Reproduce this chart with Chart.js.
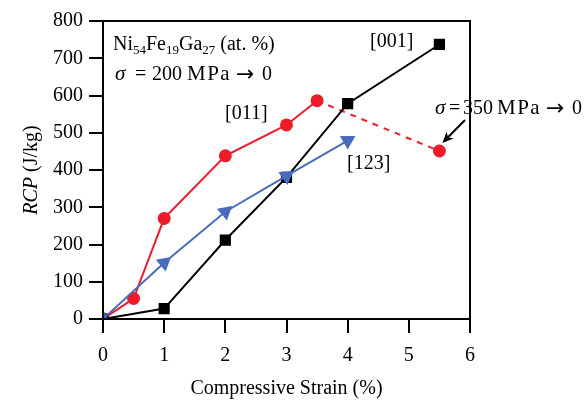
<!DOCTYPE html>
<html><head><meta charset="utf-8">
<script src="https://cdn.jsdelivr.net/npm/chart.js@4/dist/chart.umd.min.js"></script>
<style>html,body{margin:0;padding:0;background:#fff}#wrap{width:586px;height:401px}</style>
</head><body><div id="wrap"><canvas id="c" width="586" height="401"></canvas></div>
<script>
const xTicks = [0,1,2,3,4,5,6];
const yTicks = [0,100,200,300,400,500,600,700,800];
const s001 = [[0,0],[1,28],[2,212],[3,380],[4,578],[5.5,737]];
const s011 = [[0,0],[0.5,55],[1,270],[2,438],[3,521],[3.5,586],[5.5,451]];
const s123 = [[0,0],[1,151],[2,288],[3,384],[4,479]];
const labels = ['[001]','[011]','[123]'];

const F = '"Liberation Serif", "Times New Roman", serif';
const FA = '"DejaVu Sans", sans-serif';
const toPts = a => a.map(p => ({x:p[0], y:p[1]}));

const annot = {
  id:'annot',
  afterDraw(chart){
    const {ctx, chartArea:a, scales:{x,y}} = chart;
    ctx.save();
    ctx.strokeStyle='#000'; ctx.lineWidth=2;
    ctx.strokeRect(a.left, a.top, a.right-a.left, a.bottom-a.top);
    ctx.fillStyle='#000'; ctx.textBaseline='alphabetic'; ctx.textAlign='left';
    let cx, by;
    const seg = (t, font, dy) => {
      ctx.font = font;
      ctx.fillText(t, cx, by + (dy||0));
      cx += ctx.measureText(t).width;
    };
    const N='20px '+F, S='13px '+F;
    // Ni54Fe19Ga27 (at. %)
    cx = 113; by = 50;
    seg('Ni',N); seg('54',S,4); seg('Fe',N); seg('19',S,4); seg('Ga',N); seg('27',S,4); seg(' (at. %)',N);
    // sigma lines, pieces placed to match spacing
    const sigmaLine = (x0, base, num, o) => {
      ctx.font='italic 21px '+F; ctx.fillText('σ', x0, base);
      ctx.font=N; ctx.fillText('=', x0+o[0], base);
      ctx.fillText(num, x0+o[1], base);
      ctx.save(); ctx.font='21px '+F; ctx.letterSpacing='1.5px'; ctx.fillText('MPa', x0+o[2], base); ctx.restore();
      ctx.font='22px '+FA; ctx.fillText('→', x0+o[3], base+1);
      ctx.font=N; ctx.fillText('0', x0+o[4], base);
    };
    sigmaLine(115, 80, '200', [20,37,72,121,147]);
    sigmaLine(435, 114, '350', [14,28,62,111,137]);
    // series labels
    ctx.font=N;
    ctx.fillText(labels[0], 370, 47);
    ctx.fillText(labels[1], 225, 119);
    ctx.fillText(labels[2], 347, 169);
    // arrow
    const x0=465,y0=120,x1=x.getPixelForValue(5.5)+3,y1=y.getPixelForValue(451)-8;
    const ang=Math.atan2(y1-y0,x1-x0);
    ctx.beginPath(); ctx.moveTo(x0,y0); ctx.lineTo(x1-8*Math.cos(ang),y1-8*Math.sin(ang)); ctx.stroke();
    ctx.beginPath();
    ctx.moveTo(x1,y1);
    ctx.lineTo(x1-12*Math.cos(ang-0.42), y1-12*Math.sin(ang-0.42));
    ctx.lineTo(x1-8*Math.cos(ang), y1-8*Math.sin(ang));
    ctx.lineTo(x1-12*Math.cos(ang+0.42), y1-12*Math.sin(ang+0.42));
    ctx.closePath(); ctx.fill();
    // y title
    ctx.translate(37, (a.top+a.bottom)/2);
    ctx.rotate(-Math.PI/2);
    ctx.font='italic 20px '+F;
    const w1=ctx.measureText('RCP').width;
    ctx.font='20px '+F;
    const w2=ctx.measureText(' (J/kg)').width;
    let sx=-(w1+w2)/2;
    ctx.font='italic 20px '+F; ctx.fillText('RCP', sx, 0);
    ctx.font='20px '+F; ctx.fillText(' (J/kg)', sx+w1, 0);
    ctx.restore();
  }
};

new Chart(document.getElementById('c'), {
  type:'scatter',
  data:{datasets:[
    {label:labels[2], data:toPts(s123), showLine:true, order:0, borderColor:'#4a6bbd', backgroundColor:'#4a6bbd',
     borderWidth:2, pointStyle:'triangle', pointRadius:7, pointRotation:[240,50,50,55,60]},
    {label:labels[0], data:toPts(s001), showLine:true, order:1, borderColor:'#000', backgroundColor:'#000',
     borderWidth:2, pointStyle:'rect', pointRadius:6.5},
    {label:labels[1], data:toPts(s011), showLine:true, order:2, borderColor:'#ec1c2a', backgroundColor:'#ec1c2a',
     borderWidth:2, pointStyle:'circle', pointRadius:5.5,
     segment:{borderDash: c => c.p0DataIndex===5 ? [6,6] : undefined}}
  ]},
  options:{
    responsive:false, animation:false, devicePixelRatio:1,
    layout:{padding:{left:0,right:116,top:21,bottom:0}},
    plugins:{legend:{display:false}, tooltip:{enabled:false}},
    scales:{
      x:{type:'linear', min:0, max:6,
        afterBuildTicks: s => { s.ticks = xTicks.map(v=>({value:v})); },
        afterFit: s => { s.height = 401-319; },
        border:{color:'#000', width:2},
        grid:{drawOnChartArea:false, tickLength:14, tickColor:'#000', lineWidth:2},
        ticks:{color:'#000', font:{family:F, size:20}, padding:11, maxRotation:0},
        title:{display:true, text:'Compressive Strain (%)', color:'#000', font:{family:F, size:20}, padding:{top:3, bottom:0}}
      },
      y:{type:'linear', min:0, max:800,
        afterBuildTicks: s => { s.ticks = yTicks.map(v=>({value:v})); },
        afterFit: s => { s.width = 103; },
        border:{color:'#000', width:2},
        grid:{drawOnChartArea:false, tickLength:14, tickColor:'#000', lineWidth:2},
        ticks:{color:'#000', font:{family:F, size:20}, padding:6},
        title:{display:false}
      }
    }
  },
  plugins:[annot]
});
</script></body></html>
